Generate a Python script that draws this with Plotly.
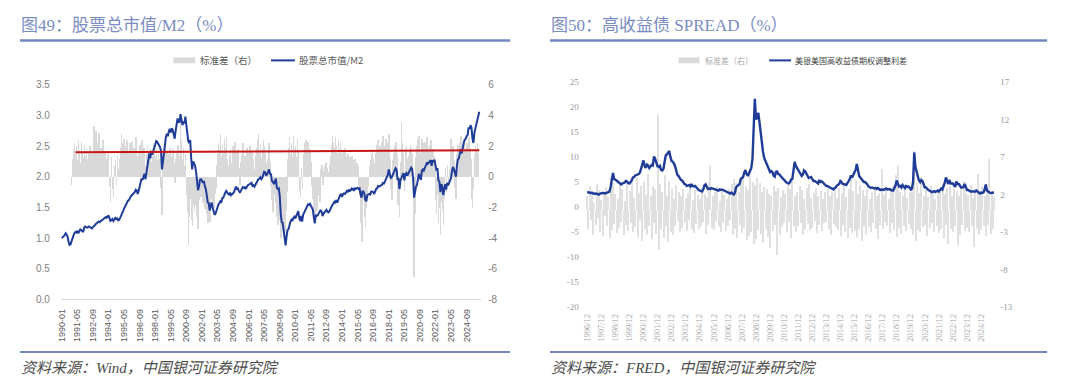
import pandas as pd
import plotly.graph_objects as go

W, H = 1080, 392

# ---------------- Left chart: 股票总市值/M2 ----------------
left_months = pd.date_range("1990-01-01", periods=430, freq="MS").strftime("%Y-%m").tolist()

mcap_m2 = [
    1.00, 1.01, 1.03, 1.05, 1.08, 1.06, 1.02, 0.94, 0.89, 0.90, 0.96, 1.00,
    1.04, 1.08, 1.10, 1.09, 1.12, 1.08, 1.12, 1.14, 1.13, 1.12, 1.10, 1.17,
    1.19, 1.18, 1.17, 1.18, 1.19, 1.18, 1.17, 1.16, 1.18, 1.19, 1.21, 1.23,
    1.24, 1.25, 1.27, 1.26, 1.28, 1.29, 1.30, 1.31, 1.32, 1.34, 1.33, 1.35,
    1.37, 1.33, 1.28, 1.29, 1.31, 1.28, 1.30, 1.33, 1.31, 1.32, 1.29, 1.30,
    1.33, 1.36, 1.40, 1.44, 1.48, 1.52, 1.56, 1.57, 1.61, 1.62, 1.66, 1.68,
    1.70, 1.71, 1.73, 1.75, 1.79, 1.78, 1.72, 1.77, 1.84, 1.89, 1.97, 1.95,
    2.02, 2.05, 1.96, 2.06, 2.18, 2.28, 2.38, 2.30, 2.42, 2.36, 2.45, 2.47,
    2.52, 2.58, 2.57, 2.54, 2.50, 2.48, 2.42, 2.12, 2.25, 2.40, 2.55, 2.65,
    2.70, 2.66, 2.74, 2.78, 2.72, 2.79, 2.76, 2.68, 2.62, 2.75, 2.86, 2.95,
    2.90, 2.88, 3.02, 2.93, 2.84, 2.90, 2.87, 2.98, 2.80, 2.76, 2.58, 2.55,
    2.60, 2.30, 2.12, 2.25, 2.22, 2.18, 2.08, 1.95, 1.78, 1.84, 1.95, 1.96,
    1.94, 1.90, 1.93, 1.85, 1.80, 1.70, 1.58, 1.57, 1.45, 1.52, 1.58, 1.50,
    1.42, 1.38, 1.40, 1.46, 1.52, 1.55, 1.57, 1.60, 1.59, 1.65, 1.66, 1.71,
    1.74, 1.77, 1.74, 1.72, 1.71, 1.74, 1.70, 1.71, 1.73, 1.75, 1.80, 1.84,
    1.80, 1.81, 1.77, 1.74, 1.77, 1.80, 1.83, 1.82, 1.83, 1.80, 1.84, 1.86,
    1.87, 1.88, 1.89, 1.90, 1.85, 1.86, 1.84, 1.87, 1.91, 1.94, 1.96, 1.97,
    1.99, 1.96, 1.98, 2.03, 2.08, 2.07, 2.02, 2.04, 2.09, 2.12, 2.05, 2.04,
    1.93, 1.92, 1.88, 1.95, 1.97, 1.82, 1.80, 1.81, 1.68, 1.40, 1.26, 1.25,
    1.13, 0.98, 0.88, 1.03, 1.13, 1.15, 1.22, 1.27, 1.30, 1.28, 1.33, 1.35,
    1.32, 1.36, 1.41, 1.44, 1.33, 1.28, 1.36, 1.27, 1.38, 1.42, 1.44, 1.50,
    1.52, 1.55, 1.54, 1.56, 1.53, 1.50, 1.46, 1.34, 1.24, 1.38, 1.36, 1.37,
    1.40, 1.44, 1.46, 1.43, 1.36, 1.40, 1.42, 1.44, 1.46, 1.43, 1.42, 1.44,
    1.48, 1.50, 1.54, 1.56, 1.59, 1.57, 1.62, 1.58, 1.63, 1.67, 1.70, 1.72,
    1.67, 1.72, 1.73, 1.72, 1.74, 1.77, 1.75, 1.79, 1.77, 1.78, 1.81, 1.80,
    1.77, 1.82, 1.80, 1.81, 1.82, 1.80, 1.81, 1.71, 1.66, 1.76, 1.76, 1.72,
    1.62, 1.61, 1.70, 1.71, 1.72, 1.71, 1.76, 1.76, 1.75, 1.72, 1.77, 1.80,
    1.81, 1.85, 1.84, 1.85, 1.86, 1.87, 1.90, 1.89, 1.92, 1.96, 2.00, 2.03,
    2.12, 2.03, 1.98, 1.99, 2.03, 2.05, 2.10, 2.14, 2.12, 1.95, 1.98, 1.80,
    1.94, 1.98, 2.00, 2.06, 1.94, 2.04, 2.06, 2.02, 2.05, 2.08, 2.12, 2.15,
    2.13, 1.98, 1.66, 1.80, 1.84, 1.87, 1.95, 2.05, 1.98, 1.95, 2.10, 2.12,
    2.10, 2.14, 2.16, 2.22, 2.21, 2.24, 2.25, 2.27, 2.18, 2.27, 2.24, 2.28,
    2.16, 2.10, 2.14, 1.94, 1.92, 1.75, 1.88, 1.84, 1.70, 1.80, 1.88, 1.79,
    1.90, 1.86, 1.90, 1.95, 1.98, 2.10, 2.16, 2.12, 2.04, 2.00, 2.18, 2.28,
    2.30, 2.38, 2.45, 2.38, 2.48, 2.55, 2.60, 2.62, 2.66, 2.68, 2.80, 2.78,
    2.84, 2.80, 2.62, 2.55, 2.72, 2.80, 2.86, 2.92, 2.98, 3.06,
]

std_left = [
    None, None, None, None, None, None, None, None, None, None, -0.5, 1.2,
    1.8, 2.2, 1.5, 2.0, 1.1, 2.4, 1.7, 0.9, 2.3, 1.6, 1.3, 2.1,
    1.4, 1.9, 1.2, 0.8, 1.6, 2.0, 1.5, 1.1, 1.7, 3.3, 2.6, 3.0,
    2.2, 1.8, 2.9, 1.4, 1.9, 1.6, 2.4, 1.0, 1.7, 1.2, 0.6, 1.5,
    0.9, -0.6, -1.6, 1.3, -0.8, -1.3, 0.7, 1.1, -0.5, 1.4, 0.5, 1.2,
    1.9, 2.8, 2.2, 1.6, 2.5, 1.3, 2.0, 2.4, 1.7, 1.1, 2.2, 1.8,
    2.3, 1.5, 1.9, 1.2, 2.6, 1.4, 0.8, 1.6, 2.1, 1.7, 2.4, 1.3,
    1.9, 1.1, 0.7, 1.5, 2.0, 1.6, 1.2, 1.8, 1.0, 1.4, 2.2, 1.6,
    1.3, 1.9, 1.1, 1.5, 0.8, 1.2, -0.7, -2.5, 0.9, 1.6, 2.0, 1.4,
    1.7, 1.0, 1.5, 1.9, 0.6, 1.3, 1.8, 0.9, -0.4, 1.2, 1.6, 2.1,
    1.4, 0.8, 3.6, 2.4, 1.2, 1.9, 0.7, 1.5, -1.2, -2.3, -4.4, -2.6,
    -1.4, -2.8, -3.2, -1.8, -2.2, -1.1, -1.9, -2.6, -3.4, -1.5, -0.8, -1.3,
    -1.0, -1.7, -0.9, -2.1, -1.6, -2.4, -3.0, -2.2, -2.9, -1.4, -0.6, -1.8,
    -2.0, -1.1, -0.7, 0.8, 1.5, 2.2, 1.8, 2.8, 1.4, 2.1, 1.6, 2.5,
    1.9, 2.6, 1.2, 0.7, 1.4, 1.8, 0.9, 1.3, 2.0, 1.1, 2.3, 1.7,
    1.2, 1.8, 0.6, -0.5, 1.0, 1.5, 2.2, 0.8, 1.4, 0.9, 1.9, 1.3,
    1.6, 2.0, 1.1, 1.7, 0.7, 1.2, 0.5, 1.4, 1.9, 2.5, 2.8, 1.6,
    2.1, 1.3, 1.8, 2.4, 2.0, 1.5, 0.9, 1.2, 1.7, 2.2, 1.0, -0.6,
    -1.5, -2.3, -1.2, -0.8, -1.7, -2.6, -3.1, -1.9, -2.8, -4.0, -3.5, -2.4,
    -3.0, -3.6, -2.2, -1.0, 1.2, 1.9, 2.6, 1.5, 2.2, 1.4, 2.7, 1.8,
    2.0, 1.3, 2.5, 1.7, -0.9, -1.3, 0.6, -0.8, 1.5, 2.2, 1.6, 2.4,
    1.9, 2.3, 1.2, 1.8, 1.0, -0.6, -1.4, -2.6, -3.0, -1.8, -2.2, -1.2,
    -0.9, -1.6, 0.5, 0.8, -0.5, 0.4, 0.7, 0.9, 1.0, 0.6, 0.3, 0.8,
    1.4, 2.1, 2.7, 2.3, 1.9, 2.6, 2.0, 1.5, 2.4, 1.8, 2.2, 1.6,
    1.1, 1.7, 1.3, 1.9, 1.4, 1.2, 1.5, 0.9, 1.3, 1.0, 1.4, 1.1,
    0.8, 1.2, 0.6, 0.9, 0.7, -0.5, -1.2, -3.0, -4.2, -2.2, -1.5, -2.6,
    -3.3, -2.0, -1.1, -0.6, 0.7, 1.1, 1.5, 1.8, 1.2, 0.9, 1.6, 2.1,
    1.8, 2.4, 1.5, 2.0, 1.7, 2.3, 2.7, 1.4, 2.0, 2.5, 1.9, 2.2,
    2.8, 1.2, -0.8, -1.5, 1.1, 1.6, 2.0, 2.3, 1.5, -1.8, -1.2, -2.6,
    1.0, 3.6, 2.2, 1.6, -0.9, 1.8, 2.0, 1.2, 1.4, 1.7, 2.1, 1.9,
    1.5, -0.8, -6.5, -2.4, 1.3, 2.0, 2.4, 2.7, 1.6, 1.2, 2.5, 2.2,
    1.8, 2.3, 1.4, 2.6, 1.9, 1.5, 2.1, 2.4, 1.2, 1.8, 1.4, 1.0,
    -1.5, -2.4, -1.2, -3.0, -2.0, -3.8, -1.6, -2.2, -3.1, -1.4, 0.6, -1.0,
    0.8, -0.6, 0.5, 1.2, 2.5, 1.6, 2.0, 1.1, -0.7, -1.4, 1.5, 2.1,
    1.7, 2.3, 2.7, 1.4, 2.0, 2.5, 1.8, 1.3, 2.2, 1.6, 2.6, 1.9,
    1.2, -1.4, -2.0, -0.8, 1.5, 2.0, 1.7, 2.2, 1.6, None,
]

red_months = ["1991-03", "2025-10"]
red_values = [2.40, 2.43]

left_tick_months = left_months[::16]
left_y_ticks = [0, 0.5, 1.0, 1.5, 2.0, 2.5, 3.0, 3.5]
left_y2_ticks = [-8, -6, -4, -2, 0, 2, 4, 6]

# ---------------- Right chart: 高收益债 SPREAD ----------------
right_months = pd.date_range("1996-12-01", periods=348, freq="MS").strftime("%Y/%m").tolist()

hy_oas = [
    3.0,
    2.9, 2.8, 2.8, 2.9, 2.7, 2.7, 2.6, 2.7, 2.6, 2.5, 2.7, 2.8,
    2.8, 2.8, 2.7, 2.8, 2.9, 3.0, 3.1, 4.0, 5.1, 6.8, 5.6, 5.5,
    5.3, 5.1, 4.9, 4.6, 4.5, 4.7, 4.8, 4.9, 5.2, 5.1, 4.8, 4.7,
    5.0, 5.3, 5.9, 6.0, 6.3, 6.4, 6.5, 6.6, 6.9, 7.8, 8.9, 9.3,
    8.2, 7.8, 8.5, 8.3, 7.8, 8.1, 8.4, 8.3, 10.1, 9.6, 8.6, 8.1,
    8.0, 8.2, 7.4, 7.3, 7.6, 8.9, 10.3, 10.5, 10.9, 11.2, 10.0, 9.2,
    9.0, 8.7, 8.1, 7.2, 6.4, 6.2, 5.6, 5.4, 5.3, 4.8, 4.6, 4.5,
    4.2, 4.3, 4.4, 4.1, 4.6, 4.2, 4.1, 4.2, 4.0, 3.7, 3.4, 3.3,
    3.2, 3.1, 3.5, 4.3, 4.5, 3.9, 3.6, 3.7, 3.6, 3.8, 3.7, 3.7,
    3.5, 3.4, 3.3, 3.3, 3.5, 3.4, 3.5, 3.4, 3.3, 3.1, 3.0, 2.9,
    2.8, 2.7, 2.9, 2.7, 2.5, 2.8, 3.9, 4.2, 4.5, 4.6, 5.6, 5.9,
    6.0, 6.9, 7.4, 6.6, 6.2, 6.7, 7.4, 7.8, 9.6, 15.6, 21.6, 17.5,
    17.8, 18.8, 16.6, 14.5, 12.5, 11.0, 9.8, 9.3, 8.6, 8.0, 7.6, 7.0,
    7.2, 7.0, 6.3, 6.1, 7.0, 7.1, 6.6, 6.5, 6.2, 5.9, 5.7, 5.4,
    5.0, 4.9, 4.8, 4.7, 5.0, 5.5, 5.6, 7.1, 9.0, 8.2, 7.8, 7.5,
    7.0, 6.4, 6.2, 6.5, 7.3, 7.1, 6.6, 6.1, 5.8, 5.9, 6.0, 5.6,
    5.2, 5.2, 5.1, 4.9, 4.7, 5.4, 5.0, 5.1, 4.9, 4.6, 4.4, 4.2,
    4.2, 4.0, 3.9, 3.8, 3.6, 3.5, 3.8, 3.9, 4.3, 4.4, 4.6, 5.2,
    5.0, 4.6, 4.6, 4.5, 4.4, 4.8, 5.1, 5.6, 6.3, 5.9, 6.4, 7.0,
    7.4, 8.6, 7.0, 6.2, 5.9, 5.6, 5.2, 5.0, 5.0, 4.8, 4.5, 4.1,
    4.0, 3.8, 3.9, 3.8, 3.7, 3.8, 3.6, 3.8, 3.6, 3.4, 3.5, 3.5,
    3.4, 3.6, 3.7, 3.5, 3.6, 3.6, 3.4, 3.3, 3.3, 3.8, 4.3, 5.3,
    4.6, 4.1, 4.2, 3.9, 4.4, 4.1, 3.8, 4.2, 4.0, 4.1, 3.9, 3.5,
    3.7, 5.0, 10.9, 8.0, 7.0, 6.3, 5.3, 5.0, 5.4, 5.2, 4.4, 3.9,
    3.9, 3.6, 3.4, 3.3, 3.1, 3.0, 3.1, 3.2, 3.0, 3.1, 3.3, 3.1,
    3.4, 3.7, 3.5, 4.0, 4.8, 5.9, 5.0, 4.6, 5.4, 4.7, 4.7, 4.7,
    4.3, 4.2, 5.1, 4.6, 4.6, 4.1, 3.9, 3.9, 4.0, 4.6, 3.9, 3.4,
    3.4, 3.2, 3.1, 3.1, 3.1, 3.2, 3.1, 3.3, 3.0, 2.9, 2.7, 2.9,
    2.8, 2.9, 3.5, 4.5, 3.3, 3.0, 2.9, 2.8, 2.8, 2.8, 2.9,
]

std_right = [
    1.8, -2.6, 3.1, -1.4, 2.2, -3.3, 0.9, -2.0, 3.4, -1.1, 2.6, -2.9,
    1.3, -3.5, 2.4, -0.8, 3.0, -2.2, 1.7, -3.8, 4.2, -2.7, 3.6, -1.9,
    2.1, -3.1, 1.5, -2.4, 3.3, -1.6, 2.8, -3.4, 1.2, -2.0, 3.5, -2.8,
    2.5, -1.7, 3.9, -3.0, 1.6, -2.3, 4.4, -3.6, 2.2, -1.4, 3.2, -4.1,
    3.7, -2.5, 2.0, -3.3, 4.8, -2.1, 1.9, -3.9, 3.1, -1.8, 2.7, -3.2,
    12.6, -5.4, 3.4, -2.6, 2.3, -3.7, 4.6, -2.2, 1.8, -4.3, 3.8, -2.9,
    2.9, -3.4, 1.4, -2.1, 3.3, -1.5, 2.4, -3.0, 1.9, -2.4, 2.8, -1.7,
    1.6, -2.8, 2.2, -1.3, 3.0, -2.5, 1.3, -3.1, 2.6, -1.9, 2.0, -2.6,
    1.4, -2.2, 2.9, -1.6, 2.1, -3.2, 1.7, -2.0, 3.5, 5.9, -2.4, 1.8,
    -2.7, 2.3, -1.5, 3.2, -2.3, 1.2, -3.0, 2.5, -1.7, 2.0, -2.8, 1.5,
    -2.1, 2.7, -1.4, 3.4, -3.3, 4.1, -2.6, 3.6, -3.8, 2.4, -2.0, 3.9,
    -3.1, 4.5, -2.4, 3.0, -4.0, 2.6, -3.5, 4.8, -2.9, 3.7, -4.6, 3.3,
    -3.9, 4.2, -2.7, 3.5, -3.2, 2.3, -4.4, 3.0, -2.5, 2.8, -3.6, 2.1,
    -5.1, 1.9, -2.8, 3.1, -2.0, 2.5, -6.0, 2.9, -3.4, 1.7, -2.3, 2.6,
    -1.8, 2.1, -2.9, 3.5, -1.6, 2.7, -3.7, 4.0, -2.2, 1.8, -3.0, 2.4,
    -2.1, 3.2, -1.7, 2.6, -3.3, 1.5, -2.5, 2.9, -1.9, 3.4, -2.7, 1.6,
    -2.4, 2.2, -1.5, 2.8, -3.1, 1.9, -2.0, 2.5, -2.8, 1.4, -1.8, 2.3,
    -1.6, 2.7, -2.6, 1.8, -3.3, 2.4, -1.9, 3.0, -2.3, 1.6, -2.7, 2.9,
    -3.5, 2.2, -2.0, 3.6, -2.9, 1.7, -3.8, 2.8, -2.4, 4.3, -3.1, 2.5,
    -2.8, 3.9, -3.6, 2.1, -2.5, 3.3, -4.2, 2.6, -2.1, 1.9, -3.4, 2.7,
    -2.3, 1.5, -3.0, 2.4, -1.7, 2.8, -2.6, 1.8, -3.9, 2.2, -2.0, 5.4,
    -2.5, 2.0, -1.6, 2.9, -2.2, 1.4, -3.1, 2.6, -1.8, 3.2, -2.7, 4.6,
    -3.6, 5.9, -2.4, 2.3, -3.2, 1.9, -2.1, 2.7, -2.8, 1.6, -1.9, 2.4,
    -2.6, 3.0, -3.3, 7.8, -4.1, 3.5, -2.7, 2.2, -3.0, 4.4, -2.3, 1.8,
    -2.0, 2.6, -3.5, 1.7, -2.4, 3.1, -1.8, 2.3, -2.9, 1.5, -2.2, 2.8,
    -3.1, 2.4, -2.6, 3.4, -3.8, 2.1, -2.0, 2.9, -4.5, 3.2, -2.5, 1.9,
    -2.9, 3.6, -2.2, 2.5, -4.7, 1.8, -3.3, 2.7, -2.0, 3.8, -2.8, 2.2,
    -2.4, 2.0, -3.0, 3.3, -2.1, 1.6, -4.9, 2.8, -2.6, 4.7, -3.4, 2.4,
    -2.7, 3.1, -2.2, 1.9, -3.5, 2.6, -2.0, 6.8, -3.2, 2.3, -2.5, 1.7,
]

right_tick_months = right_months[::12]
right_y_ticks = [-20, -15, -10, -5, 0, 5, 10, 15, 20, 25]
right_y2_ticks = [-13, -8, -3, 2, 7, 12, 17]

assert len(mcap_m2) == len(left_months), len(mcap_m2)
assert len(std_left) == len(left_months), len(std_left)
assert len(hy_oas) == len(right_months), len(hy_oas)
assert len(std_right) == len(right_months), len(std_right)

# ---------------- helpers ----------------
def fx(px):
    return px / W


def fy(py):
    return 1 - py / H


BLUE = "#1f3c98"
GRAY_BAR_L = "#d9d9d9"
GRAY_BAR_R = "#e0e0e0"
TITLE_C = "#7a8cc2"
RULE_C = "#7089c0"
CJK = "Noto Sans CJK SC"
SERIF_CJK = "Liberation Serif, Noto Sans CJK SC"

fig = go.Figure()

# left chart traces
fig.add_trace(go.Bar(x=left_months, y=std_left, width=0.6,
                     marker=dict(color=GRAY_BAR_L, line=dict(width=0)),
                     name="标准差（右）", xaxis="x", yaxis="y", showlegend=False))
fig.add_trace(go.Scatter(x=left_months, y=mcap_m2, mode="lines", line=dict(color=BLUE, width=2),
                         name="股票总市值/M2", xaxis="x", yaxis="y2", showlegend=False))
fig.add_trace(go.Scatter(x=red_months, y=red_values, mode="lines", line=dict(color="#c81414", width=2),
                         xaxis="x", yaxis="y2", showlegend=False))

# right chart traces
fig.add_trace(go.Bar(x=right_months, y=std_right, width=0.9,
                     marker=dict(color=GRAY_BAR_R, line=dict(width=0)),
                     name="标准差（右）", xaxis="x2", yaxis="y3", showlegend=False))
fig.add_trace(go.Scatter(x=right_months, y=hy_oas, mode="lines", line=dict(color=BLUE, width=2.4),
                         name="美银美国高收益债期权调整利差", xaxis="x2", yaxis="y4", showlegend=False))

left_dom_y = [fy(303), fy(82)]
right_dom_y = [fy(311), fy(79)]

fig.update_layout(
    width=W, height=H,
    margin=dict(l=0, r=0, t=0, b=0),
    paper_bgcolor="white", plot_bgcolor="white",
    bargap=0, hovermode=False,
    xaxis=dict(
        domain=[fx(57), fx(479)], type="category", range=[-1, 431], anchor="y",
        tickmode="array", tickvals=left_tick_months, ticktext=left_tick_months,
        tickangle=-90, tickfont=dict(family="Liberation Sans", size=9, color="#595959"),
        ticks="", ticklabelstandoff=5,
        showline=True, linecolor="#d9d9d9", linewidth=1, showgrid=False, zeroline=False,
    ),
    yaxis=dict(
        domain=left_dom_y, range=[-8, 6], side="right", anchor="x",
        tickmode="array", tickvals=left_y2_ticks, ticktext=[str(v) for v in left_y2_ticks],
        tickfont=dict(family="Liberation Sans", size=10, color="#7f7f7f"),
        ticks="", ticklabelstandoff=6, showgrid=False, zeroline=False, showline=False,
    ),
    yaxis2=dict(
        overlaying="y", range=[0, 3.5], side="left", anchor="x",
        tickmode="array", tickvals=left_y_ticks, ticktext=[f"{v:.1f}" for v in left_y_ticks],
        tickfont=dict(family="Liberation Sans", size=10, color="#7f7f7f"),
        ticks="", ticklabelstandoff=10, showgrid=False, zeroline=False, showline=False,
    ),
    xaxis2=dict(
        domain=[fx(583), fx(996)], type="category", range=[-2, 349], anchor="y3",
        tickmode="array", tickvals=right_tick_months, ticktext=right_tick_months,
        tickangle=-90, tickfont=dict(family="Liberation Serif", size=8.5, color="#a6a6a6"),
        ticks="", ticklabelstandoff=4,
        showline=False, showgrid=False, zeroline=False,
    ),
    yaxis3=dict(
        domain=right_dom_y, range=[-13, 17], side="right", anchor="x2",
        tickmode="array", tickvals=right_y2_ticks, ticktext=[str(v) for v in right_y2_ticks],
        tickfont=dict(family="Liberation Serif", size=9, color="#999999"),
        ticks="", ticklabelstandoff=3, showgrid=False, zeroline=False, showline=False,
    ),
    yaxis4=dict(
        overlaying="y3", range=[-20, 25], side="left", anchor="x2",
        tickmode="array", tickvals=right_y_ticks, ticktext=[str(v) for v in right_y_ticks],
        tickfont=dict(family="Liberation Serif", size=9, color="#999999"),
        ticks="", ticklabelstandoff=5, showgrid=False, zeroline=False, showline=False,
    ),
)

shapes = []
annotations = []

for (x0, x1) in [(16, 508), (548, 1047)]:
    shapes.append(dict(type="line", xref="paper", yref="paper", x0=fx(x0), x1=fx(x1),
                       y0=fy(36.5), y1=fy(36.5), line=dict(color=RULE_C, width=2.5)))
    shapes.append(dict(type="line", xref="paper", yref="paper", x0=fx(x0), x1=fx(x1),
                       y0=fy(357), y1=fy(357), line=dict(color=RULE_C, width=2)))

# titles
annotations.append(dict(text="图49：股票总市值/M2（%）", x=fx(15), y=fy(21), xref="paper", yref="paper",
                        xanchor="left", yanchor="middle", showarrow=False,
                        font=dict(family=SERIF_CJK, size=17, color=TITLE_C)))
annotations.append(dict(text="图50：高收益债 SPREAD（%）", x=fx(547), y=fy(21), xref="paper", yref="paper",
                        xanchor="left", yanchor="middle", showarrow=False,
                        font=dict(family=SERIF_CJK, size=17, color=TITLE_C)))

# sources
annotations.append(dict(text="<i>资料来源：Wind，中国银河证券研究院</i>", x=fx(15), y=fy(373),
                        xref="paper", yref="paper", xanchor="left", yanchor="middle", showarrow=False,
                        font=dict(family=SERIF_CJK, size=15, color="#4d4d4d")))
annotations.append(dict(text="<i>资料来源：FRED，中国银河证券研究院</i>", x=fx(547), y=fy(373),
                        xref="paper", yref="paper", xanchor="left", yanchor="middle", showarrow=False,
                        font=dict(family=SERIF_CJK, size=15, color="#4d4d4d")))

# legend: left
shapes.append(dict(type="rect", xref="paper", yref="paper", x0=fx(170), x1=fx(192), y0=fy(60), y1=fy(54),
                   fillcolor="#d9d9d9", line=dict(width=0)))
annotations.append(dict(text="标准差（右）", x=fx(195), y=fy(57), xref="paper", yref="paper",
                        xanchor="left", yanchor="middle", showarrow=False,
                        font=dict(family=CJK, size=9.5, color="#595959")))
shapes.append(dict(type="line", xref="paper", yref="paper", x0=fx(268), x1=fx(292), y0=fy(57), y1=fy(57),
                   line=dict(color=BLUE, width=2)))
annotations.append(dict(text="股票总市值/M2", x=fx(294), y=fy(57), xref="paper", yref="paper",
                        xanchor="left", yanchor="middle", showarrow=False,
                        font=dict(family=CJK, size=9.5, color="#595959")))

# legend: right
shapes.append(dict(type="rect", xref="paper", yref="paper", x0=fx(677), x1=fx(698), y0=fy(60), y1=fy(54),
                   fillcolor="#d9d9d9", line=dict(width=0)))
annotations.append(dict(text="标准差（右）", x=fx(702), y=fy(57), xref="paper", yref="paper",
                        xanchor="left", yanchor="middle", showarrow=False,
                        font=dict(family=CJK, size=8, color="#a6a6a6")))
shapes.append(dict(type="line", xref="paper", yref="paper", x0=fx(768), x1=fx(790), y0=fy(57), y1=fy(57),
                   line=dict(color=BLUE, width=2)))
annotations.append(dict(text="美银美国高收益债期权调整利差", x=fx(792), y=fy(57), xref="paper", yref="paper",
                        xanchor="left", yanchor="middle", showarrow=False,
                        font=dict(family=CJK, size=8, color="#404040")))

fig.update_layout(shapes=shapes, annotations=annotations)

fig.write_html(
    "out.html",
    config={"displayModeBar": False},
    post_script="document.body.style.margin='0px';document.body.style.overflow='hidden';",
)
